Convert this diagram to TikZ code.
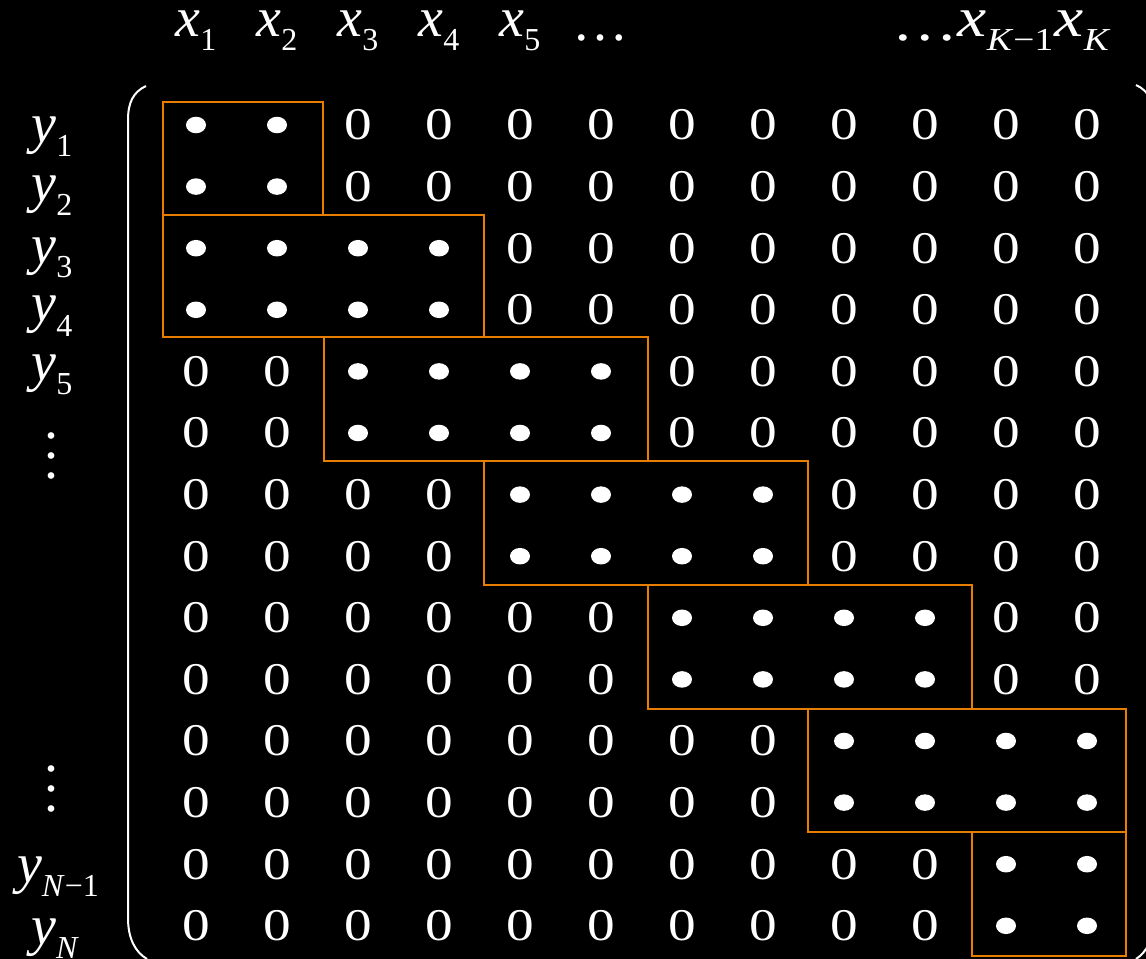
\documentclass[tikz,border=0pt]{standalone}
\usepackage{fontspec}
\setmainfont{Liberation Serif}
\usepackage{graphicx}
\definecolor{blockorange}{RGB}{232,126,0}
\newcommand{\lbl}[2]{{\fontsize{42}{46}\selectfont\itshape #1}\raisebox{-10.5pt}{\fontsize{24}{26}\selectfont #2}}
\newcommand{\zent}{\scalebox{1.22}[1]{\fontsize{34}{38}\selectfont 0}}
\newcommand{\vdts}{\fontsize{42}{46}\selectfont\vbox{\baselineskip=15pt\lineskiplimit=-10pt\hbox{.}\hbox{.}\hbox{.}}}
\newcommand{\hdts}{\raisebox{-3pt}{\fontsize{42}{46}\selectfont …}}
\tikzset{
  lab/.style={text=white, inner sep=0pt, anchor=base},
  zero/.style={text=white, inner sep=0pt, anchor=center},
  blockbox/.style={draw=blockorange, line width=1.5pt},
  bracket/.style={draw=white, line width=1.5pt},
}
\begin{document}
\begin{tikzpicture}[x=0.75pt,y=-0.75pt]
\useasboundingbox (0,0) rectangle (1146,959);
\fill[black] (0,0) rectangle (1146,959);
\clip (0,0) rectangle (1146,959);
% column labels
\node[lab] (x1) at (196,37) {\lbl{x}{1}};
\node[lab] (x2) at (277,37) {\lbl{x}{2}};
\node[lab] (x3) at (358,37) {\lbl{x}{3}};
\node[lab] (x4) at (439,37) {\lbl{x}{4}};
\node[lab] (x5) at (520,37) {\lbl{x}{5}};
\node[lab] (xd) at (600,37) {\hdts};
\node[lab, anchor=base west] (xK) at (892,37) {\scalebox{1.17}[1]{\hdts\lbl{x}{\textit{K}−1}\kern1pt\lbl{x}{\textit{K}}}};
% row labels
\node[lab] (y1) at (52,143) {\lbl{y}{1}};
\node[lab] (y2) at (52,202) {\lbl{y}{2}};
\node[lab] (y3) at (52,264) {\lbl{y}{3}};
\node[lab] (y4) at (52,322) {\lbl{y}{4}};
\node[lab] (y5) at (52,380) {\lbl{y}{5}};
\node[lab, anchor=center] (yd1) at (51,456) {\vdts};
\node[lab, anchor=center] (yd2) at (51,789) {\vdts};
\node[lab] (yN1) at (58,882) {\lbl{y}{\textit{N}−1}};
\node[lab] (yN) at (55,944) {\lbl{y}{\textit{N}}};
% brackets
\draw[bracket] (146,86) .. controls (133,92) and (128,103) .. (128,120) -- (128,918) .. controls (128,938) and (135,952) .. (147,959);
\draw[bracket] (1136,85) .. controls (1149,91) and (1154,102) .. (1154,120) -- (1154,918) .. controls (1154,938) and (1147,952) .. (1136,959);
% entries
\foreach \r in {1,...,14} {
  \pgfmathtruncatemacro\p{(\r+1)/2}
  \pgfmathtruncatemacro\lo{max(1,2*\p-3)}
  \pgfmathtruncatemacro\hi{min(12,2*\p)}
  \foreach \c in {1,...,12} {
    \pgfmathsetmacro\cx{196+81*(\c-1)}
    \pgfmathsetmacro\cy{125+61.6*(\r-1)}
    \ifnum\c<\lo
      \node[zero] (m-\r-\c) at (\cx,\cy) {\zent};
    \else\ifnum\c>\hi
      \node[zero] (m-\r-\c) at (\cx,\cy) {\zent};
    \else
      \fill[white] (\cx,\cy) ellipse [x radius=7.5pt, y radius=6.2pt];
    \fi\fi
  }
}
% block boxes
\draw[blockbox] (163,102) rectangle (323,215);
\draw[blockbox] (163,215) rectangle (484,337);
\draw[blockbox] (324,337) rectangle (648,461);
\draw[blockbox] (484,461) rectangle (808,585);
\draw[blockbox] (648,585) rectangle (972,709);
\draw[blockbox] (808,709) rectangle (1126,832);
\draw[blockbox] (972,832) rectangle (1126,956);
\end{tikzpicture}
\end{document}
